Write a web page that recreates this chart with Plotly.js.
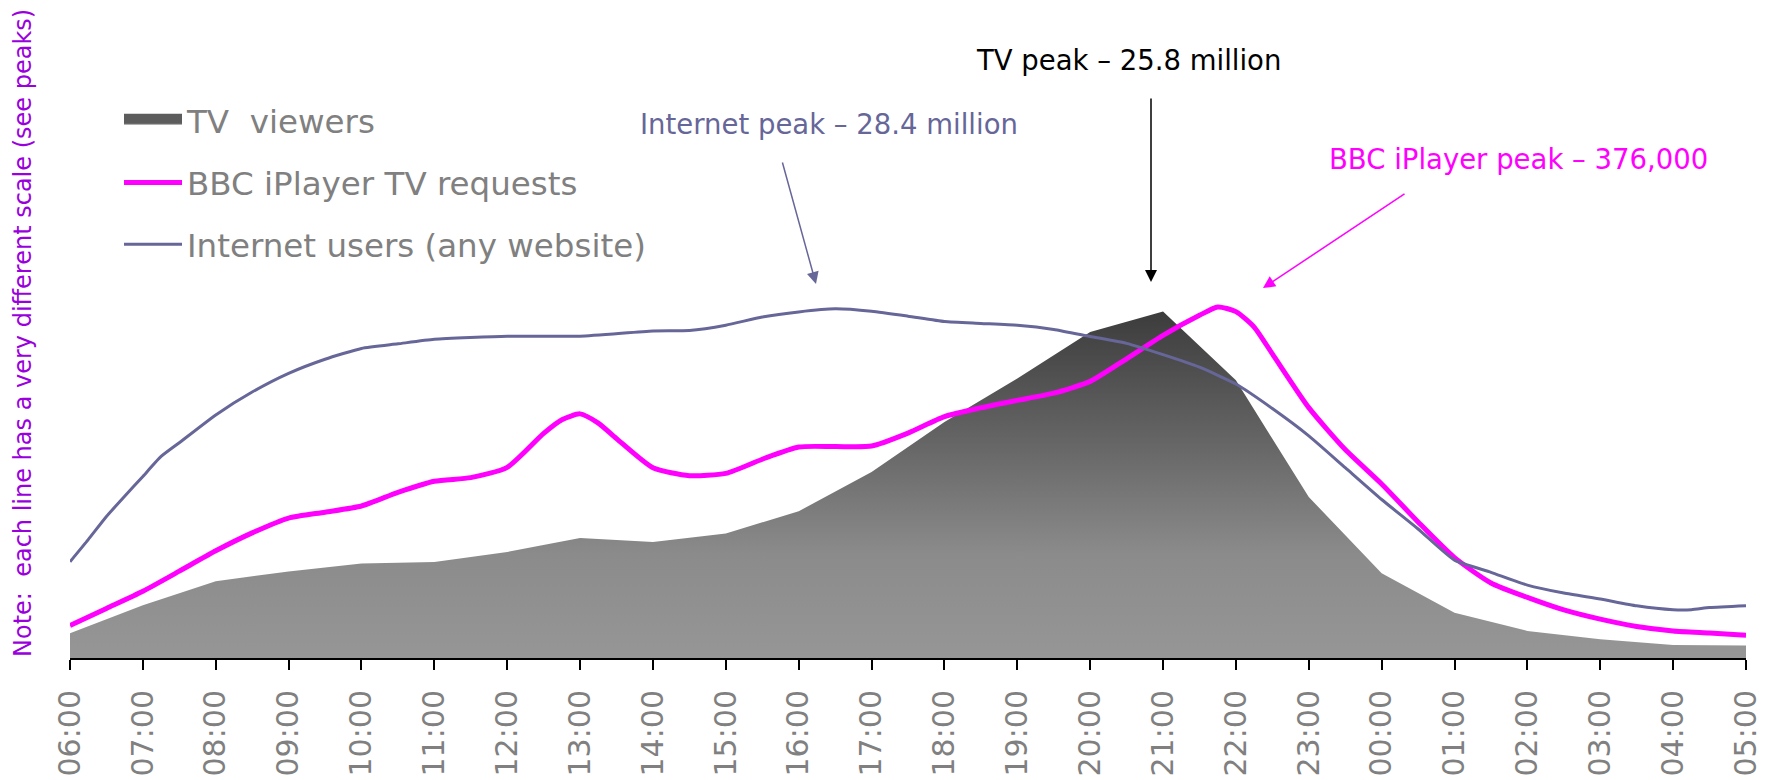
<!DOCTYPE html>
<html>
<head>
<meta charset="utf-8">
<script src="https://cdn.plot.ly/plotly-3.0.1.min.js"></script>
<style>
  html, body { margin: 0; padding: 0; background: #ffffff; }
  #chart { width: 1775px; height: 780px; }
</style>
</head>
<body>
<div id="chart"></div>
<script>
// Tick labels: one per hour, 06:00 through 05:00 next morning
const hourLabels = ["06:00","07:00","08:00","09:00","10:00","11:00","12:00","13:00","14:00","15:00","16:00","17:00",
                    "18:00","19:00","20:00","21:00","22:00","23:00","00:00","01:00","02:00","03:00","04:00","05:00"];
const hourIndex = hourLabels.map((_, i) => i); // hours after 06:00

// TV viewers (millions), hourly
const tvViewers = [1.85, 3.92, 5.71, 6.45, 7.03, 7.15, 7.90, 8.94, 8.64, 9.27, 10.93, 13.85,
                   17.58, 20.81, 24.28, 25.8, 20.68, 11.99, 6.32, 3.37, 2.02, 1.39, 0.97, 0.94];

// BBC iPlayer TV requests (thousands) — hours after 06:00
const iplayerHours = [0,0.5,1,1.5,2,2.5,3,3.5,4,4.5,5,5.5,6,6.5,6.75,7,7.25,7.5,8,8.5,9,9.5,10,10.5,11,11.5,
                      12,12.5,13,13.5,14,14.5,15,15.5,15.75,16,16.25,16.5,17,17.5,18,18.5,19,19.5,20,20.5,21,21.5,22,22.5,23];
const iplayerRequests = [34.8,53.1,71.5,93.0,114.8,134.0,149.9,156.2,162.8,177.4,189.3,193.2,204.2,240.6,255.2,261.5,251.6,235.0,
                         203.7,195.3,197.8,212.9,226.0,226.5,227.0,240.9,258.5,268.0,276.0,283.7,296.3,320.5,345.6,367.1,376,
                         371.0,354.5,325.8,268.2,223.3,186.4,145.7,107.5,80.4,64.9,51.5,41.6,33.8,29.0,26.7,24.3];

// Internet users, any website (millions) — hours after 06:00
const internetHours = [0,0.25,0.5,0.75,1,1.25,1.5,2,2.5,3,3.5,4,4.5,5,6,7,8,8.5,9,9.5,10,10.5,11,11.5,12,12.5,
                       13,13.5,14,14.5,15,15.5,16,16.5,17,17.5,18,18.5,19,19.5,20,20.5,21,21.5,22,22.25,22.5,23];
const internetUsers = [7.83,9.63,11.51,13.15,14.77,16.39,17.51,19.77,21.63,23.15,24.30,25.18,25.55,25.92,26.17,26.17,
                       26.60,26.64,27.07,27.73,28.15,28.4,28.20,27.80,27.36,27.21,27.06,26.72,26.15,25.59,24.67,23.65,
                       22.28,20.29,18.07,15.48,12.89,10.49,7.96,6.97,5.93,5.28,4.80,4.25,3.93,3.93,4.10,4.25];

const seriesNames = ["TV\u00a0\u00a0viewers", "BBC iPlayer TV requests", "Internet users (any website)"];
const peakTexts = ["TV peak \u2013 25.8 million", "Internet peak \u2013 28.4 million", "BBC iPlayer peak \u2013 376,000"];
const noteText = "Note:\u00a0\u00a0each line has a very different scale (see peaks)";

const FONT = "DejaVu Sans, Verdana, sans-serif";
const MAGENTA = "#ff00ff", SLATE = "#666699", GREY = "#808080";
const tvGradient = { type: "vertical", start: 0, stop: 25.8,
  colorscale: [[0, "#969696"], [0.3, "#8b8b8b"], [0.6, "#686868"], [1, "#3c3c3c"]] };

// layout geometry (pixels)
const W = 1775, H = 780, ML = 70, MR = 29, MT = 20, MB = 122;
const plotH = H - MT - MB;
const py = p => (H - MB - p) / plotH;        // pixel y -> paper y
const px = p => (p - ML) / (W - ML - MR);    // pixel x -> paper x

const traces = [
  {
    x: hourIndex, y: tvViewers, name: seriesNames[0], type: "scatter", mode: "lines",
    line: { width: 0, color: "#5a5a5a" }, fill: "tozeroy", fillgradient: tvGradient,
    legendgroup: "a", showlegend: false, yaxis: "y", hoverinfo: "skip"
  },
  { // legend entry for the TV area (no data of its own)
    x: [null], y: [null], name: seriesNames[0], type: "scatter", mode: "lines",
    line: { width: 10, color: "#5c5c5c" }, fill: "tozeroy", fillgradient: tvGradient,
    legendgroup: "a", legendrank: 1, yaxis: "y"
  },
  {
    x: internetHours, y: internetUsers, name: seriesNames[2], type: "scatter", mode: "lines",
    line: { width: 3, color: SLATE, shape: "spline", smoothing: 0.5 },
    legendgroup: "c", legendrank: 3, yaxis: "y3"
  },
  {
    x: iplayerHours, y: iplayerRequests, name: seriesNames[1], type: "scatter", mode: "lines",
    line: { width: 5, color: MAGENTA, shape: "spline", smoothing: 0.6 },
    legendgroup: "b", legendrank: 2, yaxis: "y2"
  }
];

const hiddenY = { visible: false, showgrid: false, zeroline: false, fixedrange: true };

const layout = {
  width: W, height: H,
  margin: { l: ML, r: MR, t: MT, b: MB, pad: 0 },
  paper_bgcolor: "#ffffff", plot_bgcolor: "#ffffff",
  font: { family: FONT, color: GREY },
  showlegend: true,
  legend: {
    x: px(119), y: py(93), xanchor: "left", yanchor: "top",
    font: { family: FONT, size: 32.5, color: GREY },
    bgcolor: "rgba(0,0,0,0)", itemwidth: 58, tracegroupgap: 16.5, traceorder: "grouped"
  },
  xaxis: {
    range: [0, 23], tickvals: hourIndex, ticktext: hourLabels, tickangle: -90,
    tickfont: { family: FONT, size: 30, color: GREY },
    showline: true, linecolor: "#000000", linewidth: 2,
    ticks: "outside", ticklen: 10, tickwidth: 2, tickcolor: "#000000",
    ticklabelstandoff: 8,
    showgrid: false, zeroline: false, fixedrange: true
  },
  yaxis: Object.assign({ range: [0, 47.52] }, hiddenY),
  yaxis2: Object.assign({ range: [0, 683.4], overlaying: "y" }, hiddenY),
  yaxis3: Object.assign({ range: [0, 51.89], overlaying: "y" }, hiddenY),
  annotations: [
    { xref: "paper", yref: "paper", x: px(1128), y: py(60), text: peakTexts[0], showarrow: false,
      font: { family: FONT, size: 27.5, color: "#000000" }, xanchor: "center", yanchor: "middle" },
    { xref: "paper", yref: "paper", x: px(829), y: py(124), text: peakTexts[1], showarrow: false,
      font: { family: FONT, size: 27.5, color: SLATE }, xanchor: "center", yanchor: "middle" },
    { xref: "paper", yref: "paper", x: px(1518), y: py(159), text: peakTexts[2], showarrow: false,
      font: { family: FONT, size: 27.5, color: MAGENTA }, xanchor: "center", yanchor: "middle" },
    // arrows
    { xref: "paper", yref: "paper", x: px(1151), y: py(282), ax: 0, ay: -185, text: "", showarrow: true,
      arrowhead: 2, arrowsize: 1.6, arrowwidth: 1.5, arrowcolor: "#000000" },
    { xref: "paper", yref: "paper", x: px(816), y: py(284), ax: -34, ay: -123, text: "", showarrow: true,
      arrowhead: 2, arrowsize: 1.6, arrowwidth: 1.5, arrowcolor: SLATE },
    { xref: "paper", yref: "paper", x: px(1263), y: py(288), ax: 143, ay: -95, text: "", showarrow: true,
      arrowhead: 2, arrowsize: 1.6, arrowwidth: 1.5, arrowcolor: MAGENTA },
    // side note
    { xref: "paper", yref: "paper", x: px(23), y: py(333), text: noteText, showarrow: false, textangle: -90,
      font: { family: FONT, size: 24, color: "#9900dd" }, xanchor: "center", yanchor: "middle" }
  ]
};

Plotly.newPlot("chart", traces, layout, { displayModeBar: false, staticPlot: true });
</script>
</body>
</html>
